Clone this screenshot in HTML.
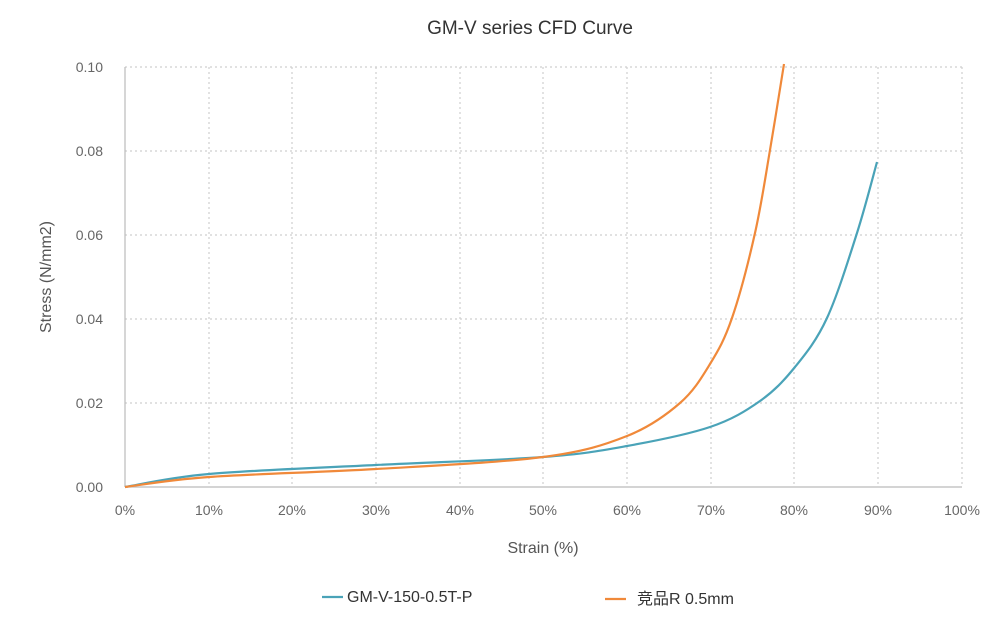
<!DOCTYPE html>
<html><head><meta charset="utf-8"><style>
body{margin:0;background:#fff;}
svg text{font-family:"Liberation Sans","Noto Sans CJK SC",sans-serif;}
</style></head><body>
<svg width="1003" height="614" xmlns="http://www.w3.org/2000/svg">
<text x="530" y="34" font-size="19" fill="#333" text-anchor="middle">GM-V series CFD Curve</text>
<g stroke="#cfcfcf" stroke-width="1.2" stroke-dasharray="2,3">
<line x1="125" y1="67" x2="962" y2="67"/><line x1="125" y1="151" x2="962" y2="151"/>
<line x1="125" y1="235" x2="962" y2="235"/><line x1="125" y1="319" x2="962" y2="319"/>
<line x1="125" y1="403" x2="962" y2="403"/>
<line x1="209" y1="67" x2="209" y2="487"/><line x1="292" y1="67" x2="292" y2="487"/>
<line x1="376" y1="67" x2="376" y2="487"/><line x1="460" y1="67" x2="460" y2="487"/>
<line x1="543" y1="67" x2="543" y2="487"/><line x1="627" y1="67" x2="627" y2="487"/>
<line x1="711" y1="67" x2="711" y2="487"/><line x1="794" y1="67" x2="794" y2="487"/>
<line x1="878" y1="67" x2="878" y2="487"/><line x1="962" y1="67" x2="962" y2="487"/>
</g>
<line x1="125" y1="67" x2="125" y2="487" stroke="#bbb" stroke-width="1.2"/>
<line x1="125" y1="487" x2="962" y2="487" stroke="#bbb" stroke-width="1.2"/>
<g font-size="14" fill="#666" text-anchor="end">
<text x="103" y="72">0.10</text><text x="103" y="156">0.08</text><text x="103" y="240">0.06</text>
<text x="103" y="324">0.04</text><text x="103" y="408">0.02</text><text x="103" y="492">0.00</text>
</g>
<g font-size="14" fill="#666" text-anchor="middle">
<text x="125" y="515">0%</text><text x="209" y="515">10%</text><text x="292" y="515">20%</text>
<text x="376" y="515">30%</text><text x="460" y="515">40%</text><text x="543" y="515">50%</text>
<text x="627" y="515">60%</text><text x="711" y="515">70%</text><text x="794" y="515">80%</text>
<text x="878" y="515">90%</text><text x="962" y="515">100%</text>
</g>
<text x="543" y="553" font-size="16" fill="#555" text-anchor="middle">Strain (%)</text>
<text transform="translate(51,277) rotate(-90)" font-size="16" fill="#555" text-anchor="middle">Stress (N/mm2)</text>
<path id="pb" fill="none" stroke="#4aa3b8" stroke-width="2.2"/>
<path id="po" fill="none" stroke="#f0893a" stroke-width="2.2"/>
<line x1="322" y1="597" x2="343" y2="597" stroke="#4aa3b8" stroke-width="2.2"/>
<text x="347" y="602" font-size="16" fill="#333">GM-V-150-0.5T-P</text>
<line x1="605" y1="599" x2="626" y2="599" stroke="#f0893a" stroke-width="2.2"/>
<text x="637" y="604" font-size="16" fill="#333">竞品R 0.5mm</text>
</svg>
<script>
function cr(p){var d="M"+p[0][0]+","+p[0][1];for(var i=0;i<p.length-1;i++){var a=p[i-1]||p[i],b=p[i],c=p[i+1],e=p[i+2]||c;
d+=" C"+(b[0]+(c[0]-a[0])/6).toFixed(1)+","+(b[1]+(c[1]-a[1])/6).toFixed(1)+" "+(c[0]-(e[0]-b[0])/6).toFixed(1)+","+(c[1]-(e[1]-b[1])/6).toFixed(1)+" "+c[0]+","+c[1];}return d;}
var blue=[[125,487],[209,474],[376,465],[543,457],[627,446],[710,427],[760,401],[795,367],[827,318],[857,233],[877,162]];
var orange=[[125,487],[209,477],[376,469],[543,457],[627,436],[680,403],[710,364],[732,318],[755,233],[770,150],[784,64]];
document.getElementById("pb").setAttribute("d",cr(blue));
document.getElementById("po").setAttribute("d",cr(orange));
</script>
</body></html>
